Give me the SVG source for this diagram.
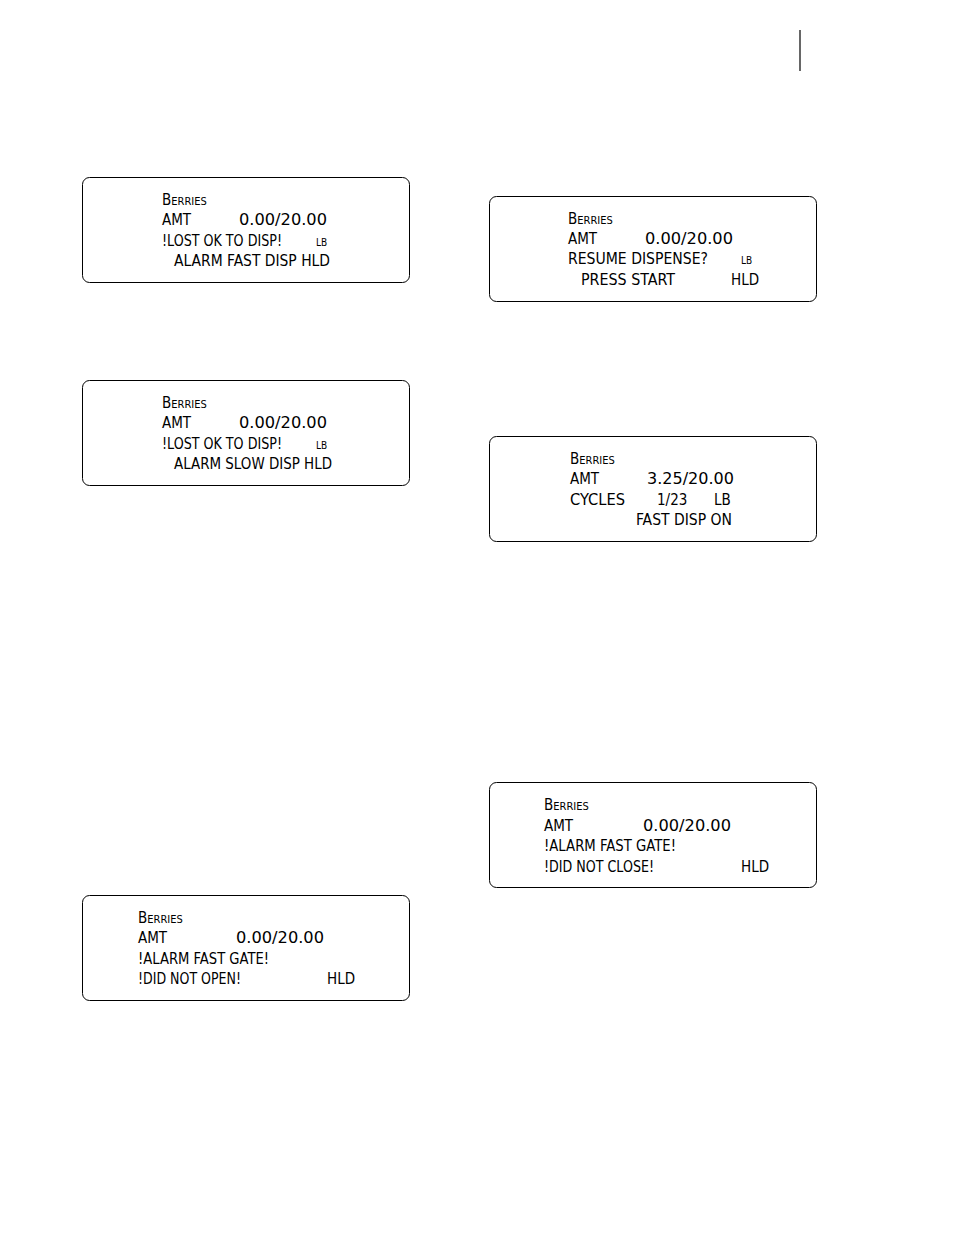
<svg xmlns="http://www.w3.org/2000/svg" width="954" height="1235" viewBox="0 0 954 1235">
<style>
.box{fill:#fff;stroke:#000;stroke-width:1}
text{font-family:"DejaVu Sans Condensed","Liberation Sans",sans-serif;font-size:15px;fill:#000}
.sc{font-variant:small-caps}
.s{font-size:10px}
</style>
<rect width="954" height="1235" fill="#fff"/>
<line x1="800" y1="30" x2="800" y2="71" stroke="#000" stroke-width="1.2"/>
<g id="d1">
<rect class="box" x="82.5" y="177.5" width="327" height="105" rx="7"/>
<text x="162" y="205" class="sc">Berries</text>
<text x="162" y="225">AMT</text><text x="239" y="225" textLength="88" lengthAdjust="spacingAndGlyphs">0.00/20.00</text>
<text x="162" y="246" textLength="120" lengthAdjust="spacingAndGlyphs">!LOST OK TO DISP!</text><text x="316" y="246" class="s">LB</text>
<text x="174" y="266" textLength="156" lengthAdjust="spacingAndGlyphs">ALARM  FAST DISP HLD</text>
</g>
<g id="d2">
<rect class="box" x="82.5" y="380.5" width="327" height="105" rx="7"/>
<text x="162" y="408" class="sc">Berries</text>
<text x="162" y="428">AMT</text><text x="239" y="428" textLength="88" lengthAdjust="spacingAndGlyphs">0.00/20.00</text>
<text x="162" y="449" textLength="120" lengthAdjust="spacingAndGlyphs">!LOST OK TO DISP!</text><text x="316" y="449" class="s">LB</text>
<text x="174" y="469" textLength="158" lengthAdjust="spacingAndGlyphs">ALARM  SLOW DISP HLD</text>
</g>
<g id="d3">
<rect class="box" x="82.5" y="895.5" width="327" height="105" rx="7"/>
<text x="138" y="923" class="sc">Berries</text>
<text x="138" y="943">AMT</text><text x="236" y="943" textLength="88" lengthAdjust="spacingAndGlyphs">0.00/20.00</text>
<text x="138" y="964" textLength="131" lengthAdjust="spacingAndGlyphs">!ALARM FAST GATE!</text>
<text x="138" y="984" textLength="103" lengthAdjust="spacingAndGlyphs">!DID NOT OPEN!</text><text x="327" y="984">HLD</text>
</g>
<g id="d4">
<rect class="box" x="489.5" y="196.5" width="327" height="105" rx="7"/>
<text x="568" y="224" class="sc">Berries</text>
<text x="568" y="244">AMT</text><text x="645" y="244" textLength="88" lengthAdjust="spacingAndGlyphs">0.00/20.00</text>
<text x="568" y="264" textLength="140" lengthAdjust="spacingAndGlyphs">RESUME DISPENSE?</text><text x="741" y="264" class="s">LB</text>
<text x="581" y="285" textLength="94" lengthAdjust="spacingAndGlyphs">PRESS START</text><text x="731" y="285">HLD</text>
</g>
<g id="d5">
<rect class="box" x="489.5" y="436.5" width="327" height="105" rx="7"/>
<text x="570" y="464" class="sc">Berries</text>
<text x="570" y="484">AMT</text><text x="647" y="484" textLength="87" lengthAdjust="spacingAndGlyphs">3.25/20.00</text>
<text x="570" y="505" textLength="55" lengthAdjust="spacingAndGlyphs">CYCLES</text><text x="657" y="505">1/23</text><text x="714" y="505">LB</text>
<text x="636" y="525" textLength="96" lengthAdjust="spacingAndGlyphs">FAST DISP ON</text>
</g>
<g id="d6">
<rect class="box" x="489.5" y="782.5" width="327" height="105" rx="7"/>
<text x="544" y="810" class="sc">Berries</text>
<text x="544" y="831">AMT</text><text x="643" y="831" textLength="88" lengthAdjust="spacingAndGlyphs">0.00/20.00</text>
<text x="544" y="851" textLength="132" lengthAdjust="spacingAndGlyphs">!ALARM FAST GATE!</text>
<text x="544" y="872" textLength="110" lengthAdjust="spacingAndGlyphs">!DID NOT CLOSE!</text><text x="741" y="872">HLD</text>
</g>
<g id="connectors"/>
</svg>
